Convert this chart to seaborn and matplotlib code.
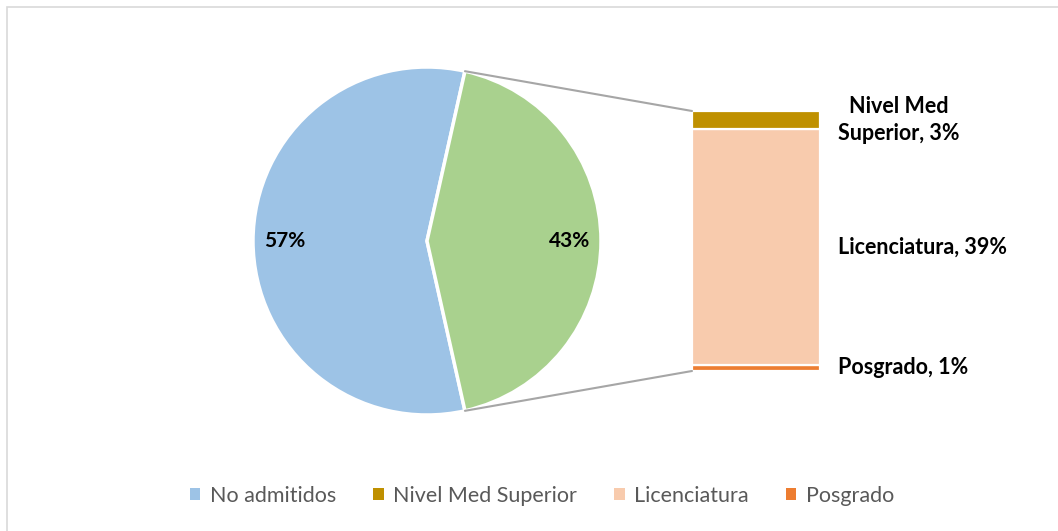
import seaborn as sns
import matplotlib.pyplot as plt
from matplotlib.patches import ConnectionPatch, Rectangle, Patch
import numpy as np

# Data
pie_labels = ['No admitidos', 'Admitidos']
pie_values = [57, 43]
pie_colors = ['#9DC3E6', '#A9D18E']

bar_labels = ['Posgrado', 'Licenciatura', 'Nivel Med Superior']  # bottom -> top
bar_values = [1, 39, 3]
bar_text = ['Posgrado, 1%', 'Licenciatura, 39%', 'Nivel Med\nSuperior, 3%']
bar_colors = ['#ED7D31', '#F8CBAD', '#BF9000']

legend_labels = ['No admitidos', 'Nivel Med Superior', 'Licenciatura', 'Posgrado']
legend_colors = ['#9DC3E6', '#BF9000', '#F8CBAD', '#ED7D31']

sns.set_style('white')
plt.rcParams['font.family'] = ['Lato', 'DejaVu Sans']

W, H = 1058, 531
fig = plt.figure(figsize=(W / 100, H / 100), dpi=100)

# pie
ax_pie = fig.add_axes([253 / W, 1 - 415 / H, 348 / W, 348 / H])
half = pie_values[1] / 100 * 180
wedges, _, autotexts = ax_pie.pie(pie_values, colors=pie_colors, startangle=half,
                                  autopct='%1.0f%%', pctdistance=0.82,
                                  wedgeprops=dict(edgecolor='white', linewidth=2.5),
                                  textprops=dict(fontsize=15, fontweight='bold', color='black'))
ax_pie.set_xlim(-1, 1)
ax_pie.set_ylim(-1, 1)
ax_pie.set_aspect('equal')
ax_pie.axis('off')

# stacked bar
ax_bar = fig.add_axes([692 / W, 1 - 371 / H, 128 / W, 260 / H])
bottom = 0
for val, col, txt in zip(bar_values, bar_colors, bar_text):
    ax_bar.bar(0, val, bottom=bottom, width=1, color=col, edgecolor='white', linewidth=1.6)
    ax_bar.text(1.14, bottom + val / 2, txt, transform=ax_bar.get_yaxis_transform(),
                ha='left', va='center', multialignment='center', linespacing=1.4,
                fontsize=15.5, fontweight='bold', color='black')
    bottom += val
ax_bar.set_xlim(-0.5, 0.5)
ax_bar.set_ylim(0, sum(bar_values))
ax_bar.axis('off')

# connector lines
theta = np.deg2rad(half)
for sign, yb in [(1, sum(bar_values)), (-1, 0)]:
    con = ConnectionPatch(xyA=(np.cos(theta), sign * np.sin(theta)), coordsA=ax_pie.transData,
                          xyB=(-0.5, yb), coordsB=ax_bar.transData,
                          color='#A6A6A6', linewidth=1.5)
    fig.add_artist(con)

# legend
handles = [Patch(facecolor=c, edgecolor='none') for c in legend_colors]
fig.legend(handles, legend_labels, loc='center', bbox_to_anchor=(542 / W, 1 - 496 / H),
           ncol=4, frameon=False, fontsize=15.5, labelcolor='#595959',
           handlelength=0.5, handleheight=0.5, handletextpad=0.45, columnspacing=1.7)

# chart border
fig.add_artist(Rectangle((7 / W, -0.2), 1.2, 1.2 - 7 / H, transform=fig.transFigure,
                         fill=False, edgecolor='#D9D9D9', linewidth=1.2))

fig.savefig('out.png', dpi=100)
